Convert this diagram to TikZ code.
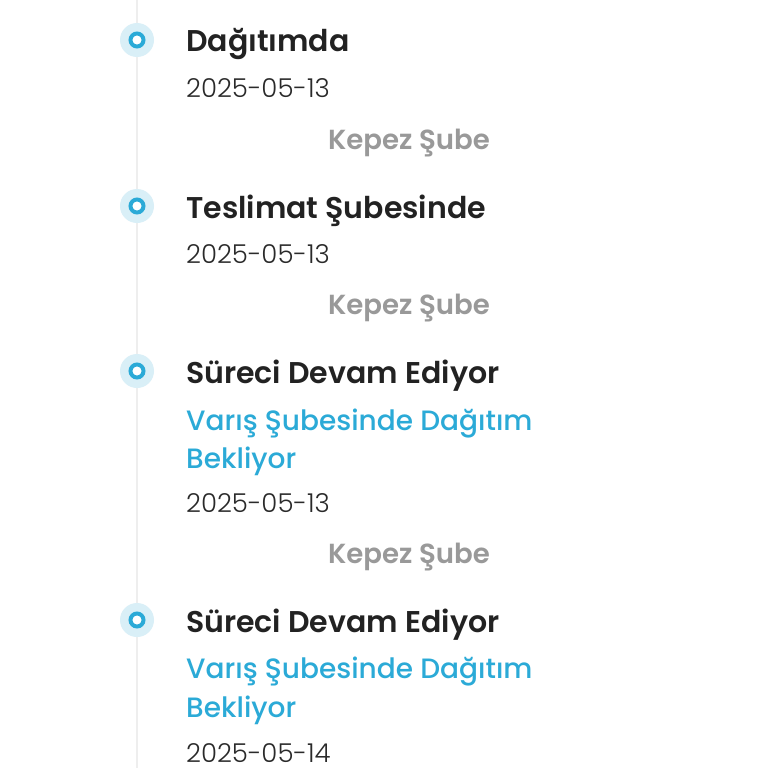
\documentclass[tikz,border=0pt]{standalone}
\usepackage{fontspec}
\setmainfont{Poppins}[BoldFont={Poppins SemiBold}]
\newfontfamily\lightf{Poppins Light}
\newfontfamily\mediumf{Poppins Medium}
\definecolor{titlec}{HTML}{222222}
\definecolor{bluec}{HTML}{2BAAD7}
\definecolor{halo}{HTML}{D9EFF7}
\definecolor{grayc}{HTML}{999999}
\definecolor{datec}{HTML}{2A2A2A}
\definecolor{linec}{HTML}{EEEEEE}
\begin{document}
\begin{tikzpicture}[x=1pt,y=-1pt,
  title/.style={anchor=base west,inner sep=0pt,text=titlec,font=\fontsize{30}{34}\selectfont\bfseries},
  sub/.style={anchor=base west,inner sep=0pt,text=bluec,font=\fontsize{28}{32}\selectfont\mediumf},
  datet/.style={anchor=base west,inner sep=0pt,text=datec,font=\fontsize{26}{30}\selectfont\lightf},
  branch/.style={anchor=base,inner sep=0pt,text=grayc,font=\fontsize{27.6}{32}\selectfont\bfseries},
  dothalo/.style={circle,fill=halo,minimum size=34pt,inner sep=0pt},
  dotring/.style={circle,draw=bluec,line width=4pt,fill=white,minimum size=13pt,inner sep=0pt}]
\useasboundingbox (0,0) rectangle (768,768);
\fill[white] (0,0) rectangle (768,768);
\coordinate (ltop) at (137,0);
\coordinate (lbot) at (137,768);
\draw[linec,line width=2pt] (ltop) -- (lbot);
% item 1
\node[dothalo] (h1) at (137,40) {};
\node[dotring] (r1) at (137,40) {};
\node[title] (t1) at (186,52) {Dağıtımda};
\node[datet] (d1) at (186,97) {2025-05-13};
\node[branch] (b1) at (409,149) {Kepez Şube};
% item 2
\node[dothalo] (h2) at (137,206) {};
\node[dotring] (r2) at (137,206) {};
\node[title] (t2) at (186,218) {Teslimat Şubesinde};
\node[datet] (d2) at (186,263) {2025-05-13};
\node[branch] (b2) at (409,314) {Kepez Şube};
% item 3
\node[dothalo] (h3) at (137,371) {};
\node[dotring] (r3) at (137,371) {};
\node[title] (t3) at (186,383) {Süreci Devam Ediyor};
\node[sub] (s3a) at (186,430) {Varış Şubesinde Dağıtım};
\node[sub] (s3b) at (186,468) {Bekliyor};
\node[datet] (d3) at (186,512) {2025-05-13};
\node[branch] (b3) at (409,563) {Kepez Şube};
% item 4
\node[dothalo] (h4) at (137,620) {};
\node[dotring] (r4) at (137,620) {};
\node[title] (t4) at (186,632) {Süreci Devam Ediyor};
\node[sub] (s4a) at (186,678) {Varış Şubesinde Dağıtım};
\node[sub] (s4b) at (186,717) {Bekliyor};
\node[datet] (d4) at (186,762) {2025-05-14};
\end{tikzpicture}
\end{document}
